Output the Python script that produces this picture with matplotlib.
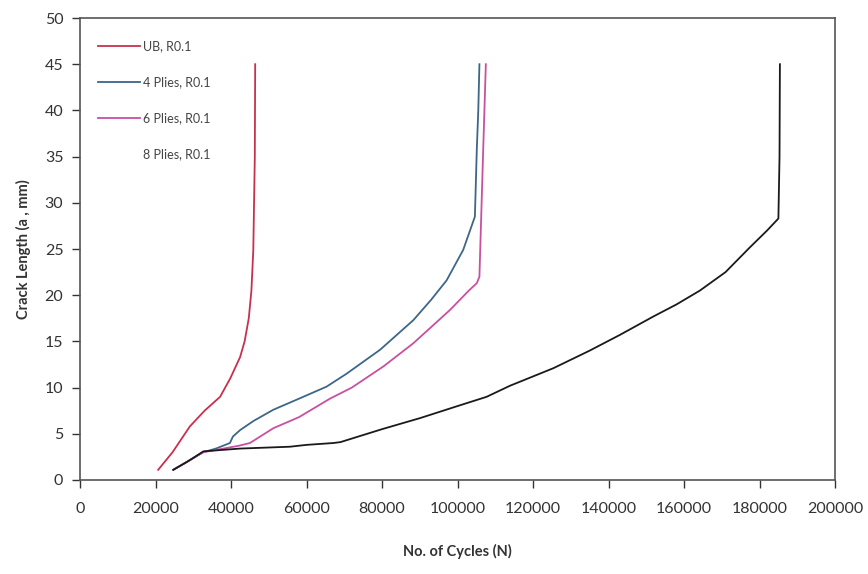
import numpy as np
import matplotlib.pyplot as plt

plt.rcParams['font.family'] = ['Lato', 'DejaVu Sans']

# crack length vs number of cycles
ub_n = [20700, 24500, 29100, 33000, 37100, 39800, 42400, 43600, 44700, 45400, 45900, 46300, 46400]
ub_a = [1.1, 3.0, 5.8, 7.5, 9.0, 11.0, 13.3, 15.0, 17.5, 20.5, 24.9, 35.0, 45.0]

p4_n = [24700, 28500, 32600, 36000, 39700, 40500, 42400, 46000, 51200, 58000, 65300, 70600,
        79500, 88300, 93000, 97100, 101500, 104600, 105100, 105500, 105800]
p4_a = [1.1, 2.0, 3.0, 3.4, 4.0, 4.7, 5.4, 6.4, 7.6, 8.8, 10.1, 11.5,
        14.1, 17.3, 19.5, 21.6, 24.9, 28.5, 35.7, 40.0, 45.0]

p6_n = [24700, 28500, 32600, 38000, 42000, 45000, 51200, 58000, 66200, 72000, 80400, 88300,
        98000, 103000, 105100, 105800, 106800, 107500]
p6_a = [1.1, 2.0, 3.0, 3.4, 3.7, 4.0, 5.6, 6.8, 8.8, 10.0, 12.3, 14.8,
        18.4, 20.5, 21.3, 22.0, 35.7, 45.0]

p8_n = [24700, 28500, 32700, 42400, 55600, 60000, 67100, 69000, 80000, 90100, 100000, 107700,
        113900, 125400, 135000, 143000, 151900, 158000, 164200, 171000, 177500, 182000,
        185000, 185300, 185400]
p8_a = [1.1, 2.0, 3.1, 3.4, 3.6, 3.8, 4.0, 4.1, 5.5, 6.7, 8.0, 9.0,
        10.2, 12.1, 14.0, 15.7, 17.7, 19.0, 20.5, 22.5, 25.2, 27.0,
        28.3, 35.0, 45.0]

labels = ['UB, R0.1', '4 Plies, R0.1', '6 Plies, R0.1', '8 Plies, R0.1']
colors = ['#c8304f', '#3d6688', '#c850a0', '#1a1a1a']

fig = plt.figure(figsize=(8.68, 5.74), dpi=100)
ax = fig.add_axes([0.0922, 0.1638, 0.8698, 0.8048])

series = [(ub_n, ub_a), (p4_n, p4_a), (p6_n, p6_a), (p8_n, p8_a)]
for (n, a), c, l in zip(series, colors, labels):
    ax.plot(n, a, color=c, lw=1.3, label=l)

ax.set_xlim(0, 200000)
ax.set_ylim(0, 50)
ax.set_xticks(np.arange(0, 200001, 20000))
ax.set_yticks(np.arange(0, 51, 5))
ax.tick_params(direction='out', length=6, width=1, colors='#333333', labelsize=11.5)
ax.tick_params(axis='x', pad=10)
ax.tick_params(axis='y', pad=6)
for s in ax.spines.values():
    s.set_color('#555555')
    s.set_linewidth(1.2)

ax.set_xlabel('No. of Cycles (N)', fontsize=10.5, fontweight='bold', color='#333333', labelpad=20)
ax.set_ylabel('Crack Length (a , mm)', fontsize=10.5, fontweight='bold', color='#333333', labelpad=10)

leg = ax.legend(loc='upper left', bbox_to_anchor=(0.012, 0.97), frameon=False, fontsize=9,
                handlelength=3.4, handletextpad=0.2, labelspacing=1.9, borderaxespad=0.3)
for t in leg.get_texts():
    t.set_color('#444444')
leg.legend_handles[3].set_visible(False)

plt.savefig('out.png', dpi=100)
